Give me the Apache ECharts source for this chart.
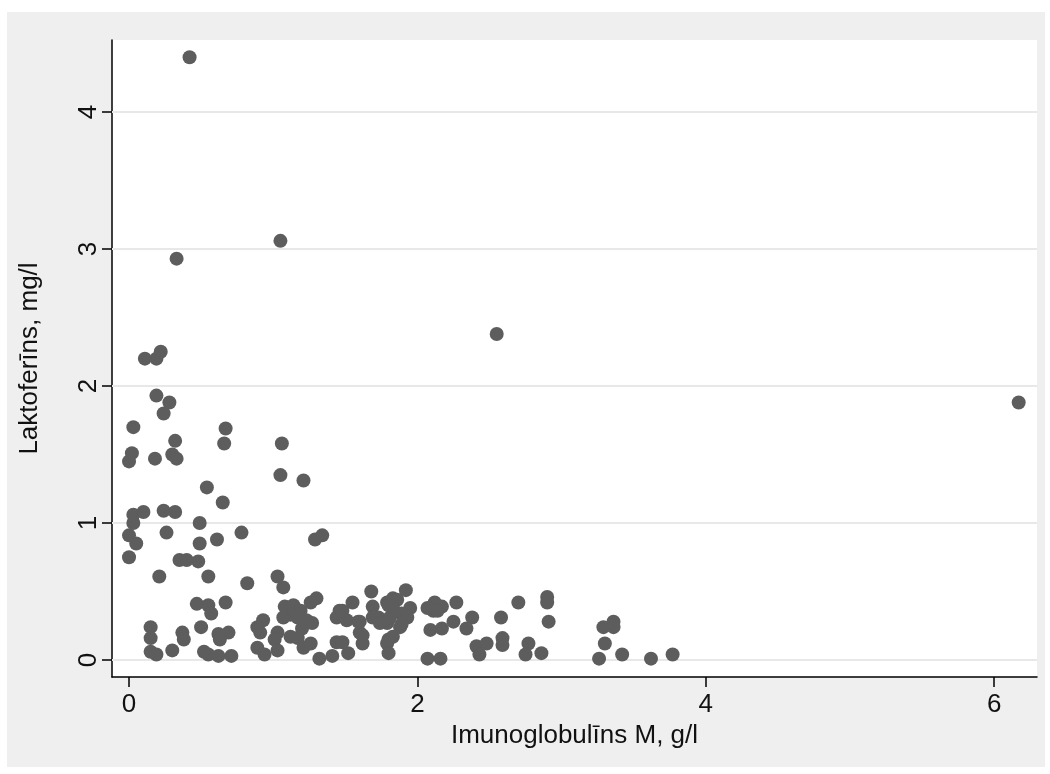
<!DOCTYPE html>
<html>
<head>
<meta charset="utf-8">
<script src="https://cdn.jsdelivr.net/npm/echarts@6/dist/echarts.min.js"></script>
<style>
  html, body { margin: 0; padding: 0; background: #fff; }
  #chart { width: 1050px; height: 774px; }
</style>
</head>
<body>
<div id="chart"></div>
<script>
// Imunoglobulīns M (g/l) vs Laktoferīns (mg/l)
let igm = [
  0.42, 1.05, 0.33, 2.55, 6.17, 0.11, 0.19, 0.22, 0.19, 0.28,
  0.24, 0.03, 0.67, 0.32, 0.66, 1.06, 0.02, 0.00, 0.18, 0.30,
  0.33, 1.05, 1.21, 0.54, 0.65, 0.03, 0.10, 0.03, 0.24, 0.32,
  0.49, 0.00, 0.05, 0.00, 0.26, 0.49, 0.61, 0.78, 1.29, 1.34,
  0.35, 0.40, 0.48, 0.21, 0.55, 0.82, 1.03, 1.07, 0.47, 0.55,
  0.57, 0.67, 0.15, 0.15, 0.15, 0.19, 0.30, 0.37, 0.38, 0.50,
  0.52, 0.55, 0.62, 0.71, 0.62, 0.63, 0.69, 0.89, 0.93, 0.91,
  0.89, 0.94, 1.03, 1.01, 1.03, 1.12, 1.17, 1.21, 1.26, 1.20,
  1.08, 1.14, 1.19, 1.12, 1.17, 1.23, 1.07, 1.26, 1.27, 1.30,
  1.32, 1.41, 1.52, 1.44, 1.48, 1.46, 1.55, 1.44, 1.51, 1.59,
  1.68, 1.69, 1.60, 1.62, 1.79, 1.83, 1.73, 1.79, 1.79, 1.80,
  1.92, 1.86, 1.95, 1.89, 1.81, 1.76, 1.88, 1.80, 1.93, 1.84,
  2.12, 2.11, 2.17, 2.27, 2.25, 2.09, 2.17, 2.07, 2.16, 2.38,
  2.34, 2.41, 2.43, 2.48, 2.58, 2.59, 2.59, 2.70, 2.90, 2.90,
  2.91, 2.77, 2.75, 2.86, 3.29, 3.36, 3.36, 3.30, 3.26, 3.42,
  3.62, 3.77, 2.07, 2.14, 1.48, 1.60, 1.69, 1.74, 1.80, 1.89,
  1.83, 1.62
];
let laktoferins = [
  4.40, 3.06, 2.93, 2.38, 1.88, 2.20, 2.20, 2.25, 1.93, 1.88,
  1.80, 1.70, 1.69, 1.60, 1.58, 1.58, 1.51, 1.45, 1.47, 1.50,
  1.47, 1.35, 1.31, 1.26, 1.15, 1.06, 1.08, 1.00, 1.09, 1.08,
  1.00, 0.91, 0.85, 0.75, 0.93, 0.85, 0.88, 0.93, 0.88, 0.91,
  0.73, 0.73, 0.72, 0.61, 0.61, 0.56, 0.61, 0.53, 0.41, 0.40,
  0.34, 0.42, 0.24, 0.16, 0.06, 0.04, 0.07, 0.20, 0.15, 0.24,
  0.06, 0.04, 0.03, 0.03, 0.19, 0.15, 0.20, 0.24, 0.29, 0.20,
  0.09, 0.04, 0.20, 0.15, 0.07, 0.17, 0.16, 0.09, 0.12, 0.23,
  0.39, 0.40, 0.36, 0.33, 0.31, 0.29, 0.31, 0.42, 0.27, 0.45,
  0.01, 0.03, 0.05, 0.13, 0.13, 0.36, 0.42, 0.31, 0.29, 0.28,
  0.50, 0.39, 0.20, 0.12, 0.42, 0.45, 0.31, 0.27, 0.12, 0.05,
  0.51, 0.44, 0.38, 0.34, 0.31, 0.29, 0.24, 0.15, 0.31, 0.36,
  0.42, 0.36, 0.39, 0.42, 0.28, 0.22, 0.23, 0.01, 0.01, 0.31,
  0.23, 0.10, 0.04, 0.12, 0.31, 0.16, 0.11, 0.42, 0.46, 0.42,
  0.28, 0.12, 0.04, 0.05, 0.24, 0.28, 0.24, 0.12, 0.01, 0.04,
  0.01, 0.04, 0.38, 0.36, 0.36, 0.28, 0.31, 0.27, 0.40, 0.26,
  0.17, 0.18
];

// tick labels
let xTicks = [0, 2, 4, 6];
let yTicks = [0, 1, 2, 3, 4];

let points = igm.map(function(v, i) {
  return [v, laktoferins[i]];
});

let chart = echarts.init(document.getElementById('chart'));

let font = 'Liberation Sans';

let option = {
  animation: false,
  backgroundColor: '#fff',
  graphic: [{
    type: 'rect',
    z: -10,
    shape: { x: 7, y: 12, width: 1038, height: 755 },
    style: { fill: '#efefef' }
  }],
  grid: {
    left: 112,
    top: 40,
    right: 13,
    bottom: 97,
    show: true,
    backgroundColor: '#fff',
    borderWidth: 0
  },
  xAxis: {
    type: 'value',
    min: -0.118,
    max: 6.297,
    name: 'Imunoglobulīns M, g/l',
    nameLocation: 'middle',
    nameGap: 43,
    nameTextStyle: { fontFamily: font, fontSize: 26, color: '#111' },
    axisLine: { onZero: false, lineStyle: { color: '#000', width: 1.5 } },
    axisTick: { customValues: xTicks, length: 10, lineStyle: { color: '#000', width: 1.5 } },
    axisLabel: { customValues: xTicks, fontFamily: font, fontSize: 26, color: '#111', margin: 15 },
    splitLine: { show: false }
  },
  yAxis: {
    type: 'value',
    min: -0.124,
    max: 4.526,
    name: 'Laktoferīns, mg/l',
    nameLocation: 'middle',
    nameGap: 69,
    nameTextStyle: { fontFamily: font, fontSize: 26, color: '#111' },
    axisLine: { show: true, onZero: false, lineStyle: { color: '#000', width: 1.5 } },
    axisTick: { show: true, customValues: yTicks, length: 10, lineStyle: { color: '#000', width: 1.5 } },
    axisLabel: { customValues: yTicks, rotate: 90, fontFamily: font, fontSize: 26, color: '#111', margin: 10 },
    splitLine: { show: false }
  },
  series: [{
    type: 'scatter',
    data: points,
    symbol: 'circle',
    symbolSize: 14,
    itemStyle: { color: '#5d5d5d', opacity: 1 },
    markLine: {
      silent: true,
      symbol: 'none',
      z: 1,
      label: { show: false },
      lineStyle: { color: '#e8e8e8', width: 2, type: 'solid' },
      data: yTicks.map(function(v) { return { yAxis: v }; })
    }
  }]
};

chart.setOption(option);
</script>
</body>
</html>
